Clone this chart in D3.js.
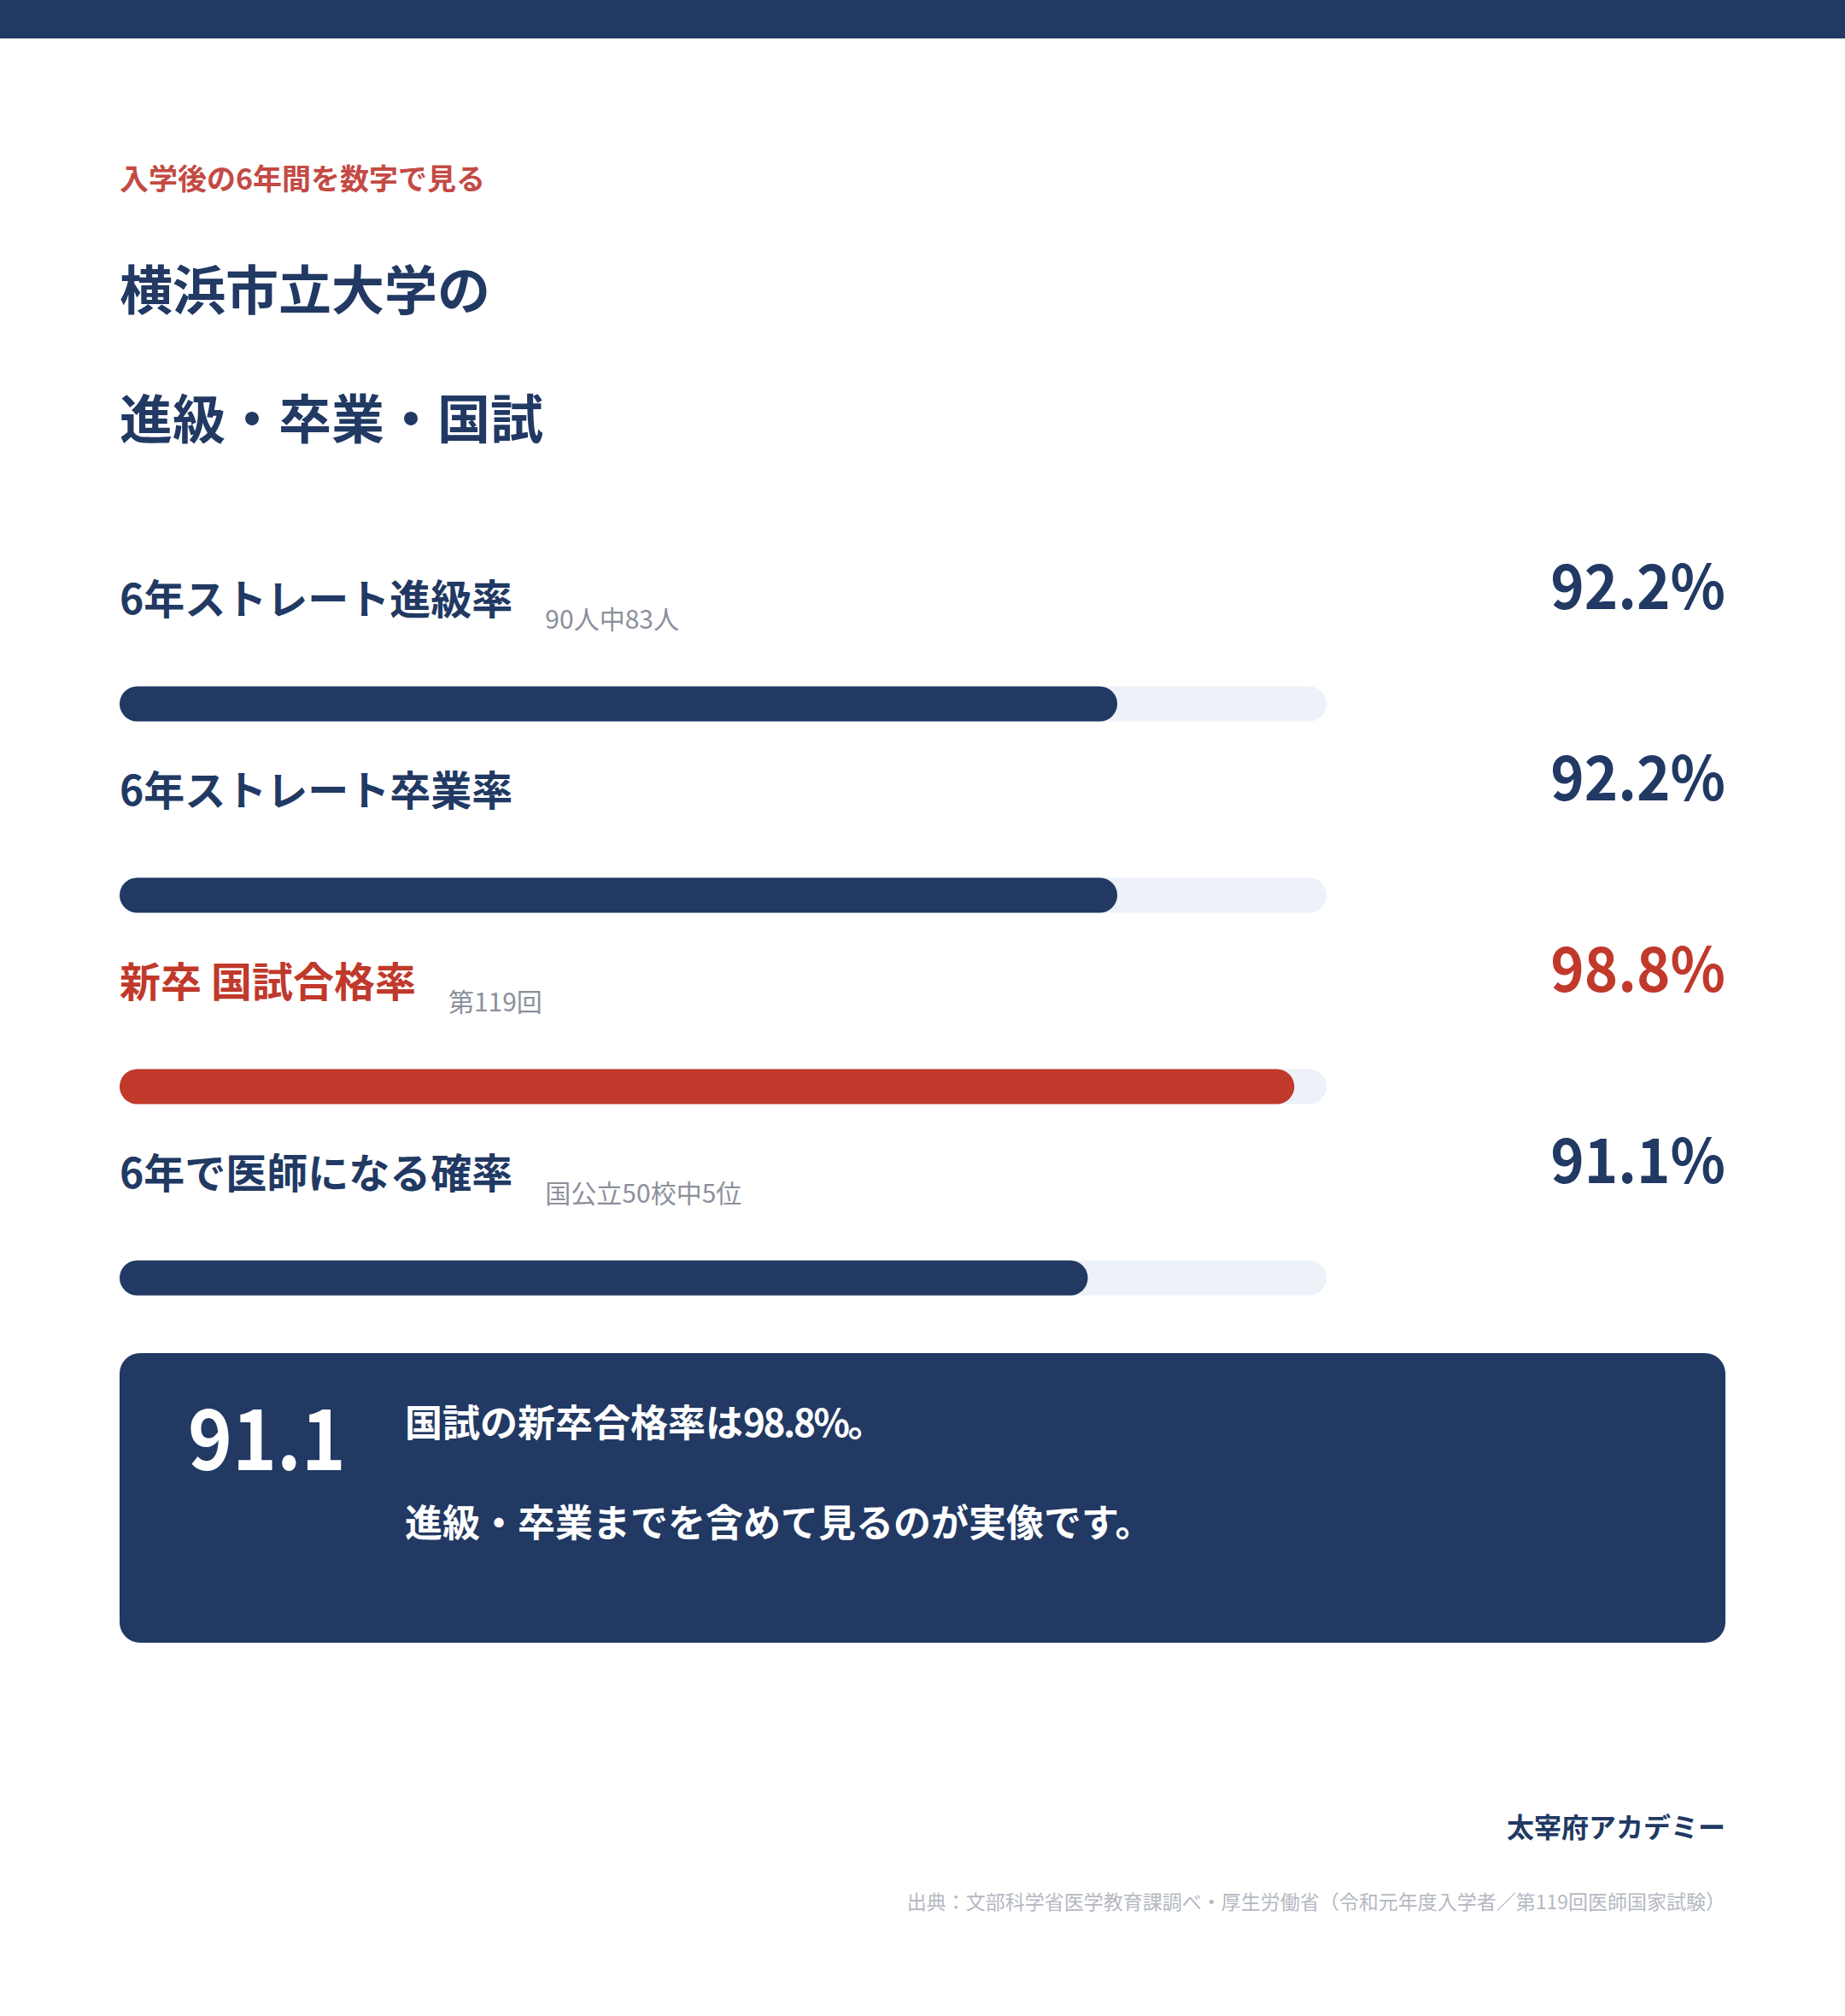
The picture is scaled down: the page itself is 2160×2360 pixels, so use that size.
<!DOCTYPE html>
<html>
<head>
<meta charset="utf-8">
<script src="https://cdn.jsdelivr.net/npm/d3@7/dist/d3.min.js"></script>
<style>
  body { margin: 0; background: #ffffff; }
  svg { display: block; font-family: "Noto Sans CJK JP", "Noto Sans", sans-serif; }
</style>
</head>
<body>
<svg id="chart"></svg>
<script>
// canvas size
const w = 2160;
const h = 2360;

// chart data
const labels = ["6年ストレート進級率", "6年ストレート卒業率", "新卒 国試合格率", "6年で医師になる確率"];
const values = [92.2, 92.2, 98.8, 91.1];
const notes = ["90人中83人", "", "第119回", "国公立50校中5位"];
const highlight = [false, false, true, false];
const axisDomain = [55, 100];

// texts
const kicker = "入学後の6年間を数字で見る";
const titleLines = ["横浜市立大学の", "進級・卒業・国試"];
const summaryValue = "91.1";
const summaryLine1 = ["国試の新卒合格率は", "98.8%", "。"];
const summaryLine2 = "進級・卒業までを含めて見るのが実像です。";
const brand = "太宰府アカデミー";
const source = "出典：文部科学省医学教育課調べ・厚生労働省（令和元年度入学者／第119回医師国家試験）";

// colours
const navy = "#213963";
const red = "#c0392b";
const track = "#edf1f8";

const left = 140;
const right = 2020;
// digits in the reference are a bit narrower than the local font
const valueSquash = 0.93;
const summarySquash = 0.9;

const svg = d3.select("#chart")
    .attr("width", w)
    .attr("height", h)
    .attr("viewBox", `0 0 ${w} ${h}`);

// top band
svg.append("rect")
    .attr("x", 0).attr("y", 0)
    .attr("width", w).attr("height", 45)
    .attr("fill", navy);

// kicker + title
svg.append("text")
    .attr("x", left).attr("y", 222)
    .attr("fill", "#c44a44")
    .attr("font-size", 34)
    .attr("font-weight", 700)
    .text(kicker);

svg.selectAll(".title")
    .data(titleLines)
    .enter()
    .append("text")
    .attr("class", "title")
    .attr("x", left)
    .attr("y", (d, i) => 363 + i * 151)
    .attr("fill", navy)
    .attr("font-size", 62)
    .attr("font-weight", 700)
    .text(d => d);

// bar scale
const x = d3.scaleLinear().domain(axisDomain).range([left, 1553]);

const rowPitch = 224;
const barH = 41;

const rows = svg.selectAll(".row")
    .data(labels.map((l, i) => ({ label: l, value: values[i], note: notes[i], hi: highlight[i], i })))
    .enter()
    .append("g")
    .attr("class", "row")
    .attr("transform", d => `translate(0, ${d.i * rowPitch})`);

// label
rows.append("text")
    .attr("class", "label")
    .attr("x", left)
    .attr("y", 719)
    .attr("fill", d => d.hi ? red : navy)
    .attr("font-size", 48)
    .attr("font-weight", 700)
    .text(d => d.label);

// small note next to the label
rows.each(function(d) {
    if (!d.note) return;
    const g = d3.select(this);
    const lw = g.select(".label").node().getComputedTextLength();
    g.append("text")
        .attr("x", left + lw + 38)
        .attr("y", 736)
        .attr("fill", "#8b909b")
        .attr("font-size", 30)
        .text(d.note);
});

// value on the right
rows.append("g")
    .attr("transform", `translate(${right}, 713) scale(${valueSquash}, 1)`)
    .append("text")
    .attr("text-anchor", "end")
    .attr("fill", d => d.hi ? red : navy)
    .attr("font-size", 72)
    .attr("font-weight", 700)
    .text(d => d.value.toFixed(1) + "%");

// track + fill
rows.append("rect")
    .attr("x", x(axisDomain[0]))
    .attr("y", 824 - barH / 2)
    .attr("width", x(axisDomain[1]) - x(axisDomain[0]))
    .attr("height", barH)
    .attr("rx", barH / 2)
    .attr("fill", track);

rows.append("rect")
    .attr("x", x(axisDomain[0]))
    .attr("y", 824 - barH / 2)
    .attr("width", d => x(d.value) - x(axisDomain[0]))
    .attr("height", barH)
    .attr("rx", barH / 2)
    .attr("fill", d => d.hi ? red : navy);

// summary box
svg.append("rect")
    .attr("x", left).attr("y", 1584)
    .attr("width", right - left).attr("height", 339)
    .attr("rx", 24)
    .attr("fill", navy);

svg.append("g")
    .attr("transform", `translate(220, 1721) scale(${summarySquash}, 1)`)
    .append("text")
    .attr("fill", "#ffffff")
    .attr("font-size", 98)
    .attr("font-weight", 700)
    .text(summaryValue);

const line1 = svg.append("text")
    .attr("x", 474)
    .attr("y", 1682)
    .attr("fill", "#ffffff")
    .attr("font-size", 44)
    .attr("font-weight", 700);

line1.selectAll("tspan")
    .data(summaryLine1)
    .enter()
    .append("tspan")
    .attr("letter-spacing", (d, i) => i === 1 ? -2.4 : 0)
    .text(d => d);

svg.append("text")
    .attr("x", 474)
    .attr("y", 1799)
    .attr("fill", "#ffffff")
    .attr("font-size", 44)
    .attr("font-weight", 700)
    .text(summaryLine2);

// footer
svg.append("text")
    .attr("x", right).attr("y", 2151)
    .attr("text-anchor", "end")
    .attr("fill", navy)
    .attr("font-size", 32)
    .attr("font-weight", 700)
    .text(brand);

svg.append("text")
    .attr("x", right).attr("y", 2235)
    .attr("text-anchor", "end")
    .attr("fill", "#b4b8c2")
    .attr("font-size", 23)
    .text(source);
</script>
</body>
</html>
